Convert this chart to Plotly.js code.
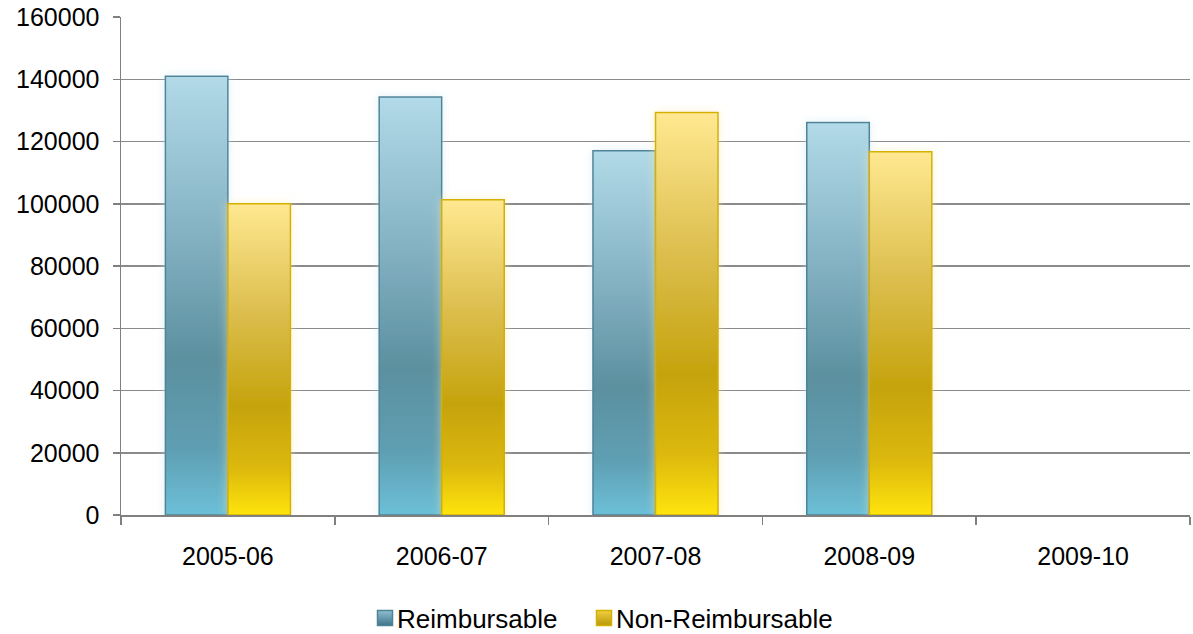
<!DOCTYPE html>
<html>
<head>
<meta charset="utf-8">
<script src="https://cdn.plot.ly/plotly-3.0.1.min.js"></script>
<style>
  html, body { margin: 0; padding: 0; background: #ffffff; }
  #chart { width: 1193px; height: 634px; }
</style>
</head>
<body>
<div id="chart"></div>
<script>
const categories = ['2005-06', '2006-07', '2007-08', '2008-09', '2009-10'];
const reimbursable = [141000, 134300, 117000, 126100, null];
const nonReimbursable = [100000, 101300, 129300, 116700, null];
const seriesNames = ['Reimbursable', 'Non-Reimbursable'];

const FONT = 'Liberation Sans, Arial, sans-serif';
const FS = 25;
const LFS = 26;

const traces = [
  {
    type: 'bar', name: seriesNames[0], x: categories, y: reimbursable,
    marker: { color: '#6a9fb1', line: { color: '#4e8498', width: 1.5 } },
    hoverinfo: 'none'
  },
  {
    type: 'bar', name: seriesNames[1], x: categories, y: nonReimbursable,
    marker: { color: '#d8b52a', line: { color: '#d4b000', width: 1.5 } },
    hoverinfo: 'none'
  }
];

const layout = {
  width: 1193, height: 634,
  margin: { l: 121, r: 3, t: 17, b: 119, autoexpand: false },
  paper_bgcolor: '#ffffff', plot_bgcolor: '#ffffff',
  font: { family: FONT, size: FS, color: '#000000' },
  bargap: 0.415, bargroupgap: 0,
  showlegend: true,
  legend: {
    orientation: 'h', xref: 'container', x: 0.5, xanchor: 'center',
    yref: 'container', y: 0, yanchor: 'bottom',
    bgcolor: 'rgba(0,0,0,0)',
    font: { family: FONT, size: LFS, color: '#000000' },
    tracegroupgap: 0
  },
  xaxis: {
    type: 'category', range: [-0.5, 4.5], automargin: false,
    tickson: 'boundaries', ticks: 'outside', ticklen: 8, tickwidth: 1.5, tickcolor: '#808080',
    showline: true, linecolor: '#808080', linewidth: 1.5,
    showgrid: false, zeroline: false,
    tickfont: { family: FONT, size: FS, color: '#000000' },
    ticklabelstandoff: 18
  },
  yaxis: {
    range: [0, 160000], dtick: 20000, tick0: 0, tickformat: 'd', automargin: false,
    ticks: 'outside', ticklen: 7, tickwidth: 1.5, tickcolor: '#808080',
    showline: true, linecolor: '#808080', linewidth: 1.5,
    showgrid: true, gridcolor: '#8a8a8a', gridwidth: 1.5,
    zeroline: false,
    tickfont: { family: FONT, size: FS, color: '#000000' },
    ticklabelstandoff: 8
  }
};

Plotly.newPlot('chart', traces, layout, { staticPlot: true }).then(function (gd) {
  const svg = gd.querySelector('svg.main-svg');
  const ns = 'http://www.w3.org/2000/svg';
  let defs = svg.querySelector('defs');
  if (!defs) { defs = document.createElementNS(ns, 'defs'); svg.insertBefore(defs, svg.firstChild); }
  function grad(id, stops) {
    const g = document.createElementNS(ns, 'linearGradient');
    g.setAttribute('id', id);
    g.setAttribute('x1', '0'); g.setAttribute('y1', '0');
    g.setAttribute('x2', '0'); g.setAttribute('y2', '1');
    stops.forEach(function (s) {
      const st = document.createElementNS(ns, 'stop');
      st.setAttribute('offset', s[0]);
      st.setAttribute('stop-color', s[1]);
      g.appendChild(st);
    });
    defs.appendChild(g);
  }
  function glow(id, color) {
    const f = document.createElementNS(ns, 'filter');
    f.setAttribute('id', id);
    f.setAttribute('x', '-30%'); f.setAttribute('y', '-10%');
    f.setAttribute('width', '160%'); f.setAttribute('height', '120%');
    f.innerHTML =
      '<feGaussianBlur in="SourceAlpha" stdDeviation="5" result="b"/>' +
      '<feFlood flood-color="' + color + '" flood-opacity="0.55" result="c"/>' +
      '<feComposite in="c" in2="b" operator="in" result="g"/>' +
      '<feMerge><feMergeNode in="g"/><feMergeNode in="SourceGraphic"/></feMerge>';
    defs.appendChild(f);
  }
  grad('gradBlue', [['0', '#b2dae8'], ['0.35', '#85b3c4'], ['0.65', '#5b909f'], ['0.85', '#5f9fb3'], ['1', '#6cc0d8']]);
  grad('gradGold', [['0', '#ffe890'], ['0.35', '#dcbe4e'], ['0.65', '#c5a30c'], ['0.85', '#dcb90a'], ['1', '#ffe40a']]);
  grad('gradBlueL', [['0', '#8fc0d2'], ['1', '#3f7488']]);
  grad('gradGoldL', [['0', '#f0d040'], ['1', '#b8980a']]);
  glow('glowBlue', '#c8e4ef');
  glow('glowGold', '#fbe9a8');

  const ids = ['gradBlue', 'gradGold'];
  const gl = ['glowBlue', 'glowGold'];
  gd.querySelectorAll('.barlayer .trace.bars').forEach(function (t, i) {
    t.querySelectorAll('.point path').forEach(function (p) {
      p.style.fill = 'url(#' + ids[i] + ')';
      p.setAttribute('filter', 'url(#' + gl[i] + ')');
    });
  });

  // legend fine-tuning to match reference spacing
  gd.querySelectorAll('.legend [clip-path]').forEach(function (el) { el.removeAttribute('clip-path'); });
  const lids = ['gradBlueL', 'gradGoldL'];
  const iconCX = [385, 604];
  const iconCY = 618;
  const textLeft = [397, 616];
  const baseline = 628;
  gd.querySelectorAll('.legend .traces').forEach(function (t, i) {
    const pts = t.querySelectorAll('.legendpoints path');
    pts.forEach(function (p) {
      p.style.fill = 'url(#' + lids[i] + ')';
      p.setAttribute('d', 'M7.5,7.5H-7.5V-7.5H7.5Z');
    });
    if (pts.length) {
      const r = pts[0].getBoundingClientRect();
      const dx = iconCX[i] - (r.left + r.width / 2);
      const dy = iconCY - (r.top + r.height / 2);
      t.setAttribute('transform', (t.getAttribute('transform') || '') + ' translate(' + dx + ',' + dy + ')');
    }
    const txt = t.querySelector('.legendtext');
    if (txt) {
      const tr = txt.getBoundingClientRect();
      const tdx = textLeft[i] - tr.left;
      const tdy = baseline - (tr.bottom - 0.212 * LFS);
      txt.setAttribute('transform', 'translate(' + tdx + ',' + tdy + ')');
    }
  });
});
</script>
</body>
</html>
